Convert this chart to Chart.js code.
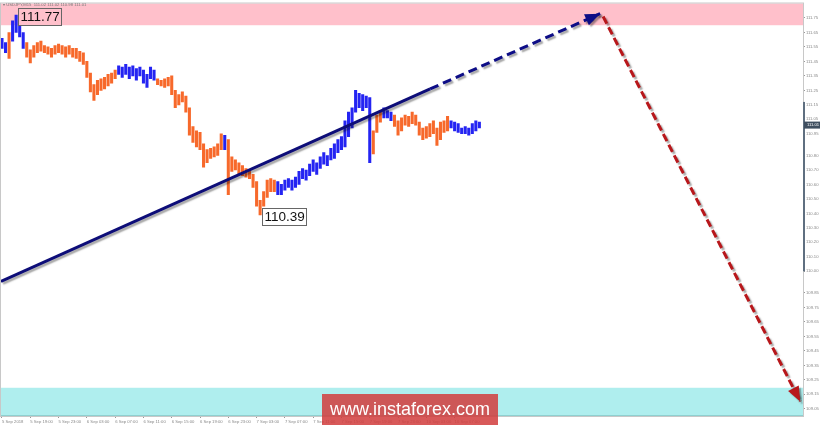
<!DOCTYPE html>
<html><head><meta charset="utf-8">
<script src="https://cdn.jsdelivr.net/npm/chart.js@4.4.1/dist/chart.umd.min.js"></script>
<style>html,body{margin:0;padding:0;background:#fff;overflow:hidden}#wrap{width:820px;height:426px;position:relative}</style>
</head><body><div id="wrap"><canvas id="c" width="820" height="426"></canvas></div>
<script>
// ---- data (USDJPY, half-hour bars, prices) ----
const barHigh = [111.61,111.58,111.65,111.73,111.77,111.70,111.65,111.58,111.53,111.56,
111.58,111.59,111.56,111.55,111.54,111.56,111.57,111.56,111.55,111.56,
111.54,111.54,111.52,111.51,111.45,111.37,111.29,111.32,111.33,111.34,
111.36,111.37,111.39,111.42,111.41,111.43,111.41,111.42,111.40,111.41,
111.39,111.36,111.41,111.39,111.33,111.32,111.33,111.34,111.35,111.25,
111.22,111.24,111.21,111.13,111.00,110.97,110.96,110.88,110.84,110.85,
110.86,110.88,110.95,110.94,110.91,110.79,110.77,110.75,110.73,110.71,
110.70,110.67,110.62,110.49,110.55,110.63,110.64,110.63,110.62,110.60,
110.63,110.64,110.63,110.65,110.69,110.71,110.70,110.74,110.77,110.75,
110.79,110.82,110.80,110.85,110.88,110.91,110.93,111.04,111.10,111.13,
111.25,111.23,111.22,111.21,111.20,110.97,111.08,111.11,111.13,111.11,
111.10,111.08,111.04,111.06,111.08,111.07,111.10,111.08,111.03,110.99,
111.00,111.02,111.04,110.99,111.03,111.04,111.07,111.04,111.03,111.02,
110.99,111.00,110.99,111.02,111.04,111.03];
const barLow = [111.54,111.51,111.47,111.59,111.65,111.62,111.54,111.48,111.44,111.48,
111.51,111.52,111.51,111.50,111.48,111.50,111.51,111.50,111.48,111.50,
111.48,111.47,111.45,111.43,111.34,111.24,111.18,111.22,111.25,111.26,
111.28,111.30,111.33,111.36,111.34,111.36,111.33,111.35,111.32,111.35,
111.30,111.27,111.33,111.32,111.29,111.28,111.27,111.28,111.22,111.13,
111.15,111.17,111.10,110.94,110.89,110.86,110.84,110.72,110.75,110.78,
110.79,110.80,110.84,110.84,110.53,110.69,110.70,110.67,110.66,110.65,
110.64,110.58,110.45,110.39,110.45,110.51,110.55,110.55,110.53,110.53,
110.56,110.58,110.56,110.58,110.60,110.64,110.63,110.66,110.69,110.67,
110.71,110.74,110.73,110.77,110.78,110.82,110.84,110.86,110.93,110.99,
111.10,111.13,111.11,111.13,110.75,110.81,110.96,111.03,111.06,111.06,
111.04,111.00,110.94,110.97,111.01,111.00,111.02,111.01,110.94,110.91,
110.92,110.93,110.95,110.87,110.91,110.96,110.97,110.99,110.97,110.96,
110.95,110.95,110.94,110.95,110.97,110.99];
const waveStart = [0,2,3,7,33,44,63,64,78,105,108,111,127];
const waveDir = ['up','down','up','down','up','down','up','down','up','down','up','down','up'];
const barStepHours = 0.5;
const xTickHours = [0,4,8,12,16,20,24,28,32,36,40,44,48,52,56,60,64];
const xTickLabels = ['5 Sep 2018','5 Sep 19:00','5 Sep 23:00','6 Sep 03:00','6 Sep 07:00','6 Sep 11:00',
'6 Sep 15:00','6 Sep 19:00','6 Sep 23:00','7 Sep 03:00','7 Sep 07:00','7 Sep 11:00','7 Sep 15:00',
'7 Sep 19:00','7 Sep 23:00','10 Sep 03:00','10 Sep 07:00'];
const yTickValues = [111.75,111.65,111.55,111.45,111.35,111.25,111.15,111.05,110.95,110.80,110.70,110.60,
110.50,110.40,110.30,110.20,110.10,110.00,109.85,109.75,109.65,109.55,109.45,109.35,109.25,109.15,109.05];
const trendX = [-0.14, 60.54, 84.58];
const trendY = [109.93, 111.26, 111.78];
const forecastX = [85.0, 112.87];
const forecastY = [111.76, 109.10];
const resistanceZone = [111.70, 111.85];
const supportZone = [109.00, 109.195];
const extremeIdx = [4, 73];
const extremeVal = [111.77, 110.39];
const lastPrice = 111.01;
const priceBarRange = [110.00, 111.17];
const headerText = '\u25BE USDJPY,M15  111.02 111.02 110.98 111.01';

const BLUE = '#2424f2', ORANGE = '#f7692b';
function barColor(i){
  let w = 0;
  for (let k=0;k<waveStart.length;k++) if (waveStart[k] <= i) w = k;
  return waveDir[w] === 'up' ? BLUE : ORANGE;
}

const bars = barHigh.map((h,i)=>({x:i*barStepHours, y:[barLow[i], h]}));

function arrowHead(ctx, p0, p1, color, len, wid){
  const ang = Math.atan2(p1.y-p0.y, p1.x-p0.x);
  ctx.save();
  ctx.translate(p1.x,p1.y); ctx.rotate(ang);
  ctx.fillStyle = color;
  ctx.beginPath(); ctx.moveTo(0,0); ctx.lineTo(-len, -wid/2); ctx.lineTo(-len, wid/2); ctx.closePath(); ctx.fill();
  ctx.restore();
}

const TICK_FONT = '4.2px "Liberation Sans"';
const decor = {
  id:'decor',
  beforeDatasetsDraw(chart){
    const {ctx, chartArea:a, scales:{y}} = chart;
    ctx.save();
    const rt = Math.max(a.top, y.getPixelForValue(resistanceZone[1]));
    const rb = y.getPixelForValue(resistanceZone[0]);
    ctx.fillStyle = '#ffc0cb';
    ctx.fillRect(a.left, rt, a.right-a.left, rb-rt);
    const st = y.getPixelForValue(supportZone[1]);
    const sb = Math.min(a.bottom, y.getPixelForValue(supportZone[0]));
    ctx.fillStyle = '#afeeee';
    ctx.fillRect(a.left, st, a.right-a.left, sb-st);
    ctx.strokeStyle = '#8fd0d0'; ctx.lineWidth = 1;
    ctx.beginPath(); ctx.moveTo(a.left, sb-0.5); ctx.lineTo(a.right, sb-0.5); ctx.stroke();
    ctx.strokeStyle = '#c8c8c8';
    ctx.strokeRect(a.left-0.5, a.top-0.5, a.right-a.left+1, a.bottom-a.top+1);
    ctx.fillStyle = '#777';
    ctx.font = '4.2px "Liberation Sans"';
    ctx.textBaseline = 'middle';
    ctx.fillText(headerText, 3, 5);
    ctx.restore();
  },
  beforeDatasetDraw(chart, args){
    const ds = chart.data.datasets[args.index];
    if (ds.shadow){
      const ctx = chart.ctx; ctx.save();
      ctx.shadowColor = 'rgba(0,0,0,0.35)'; ctx.shadowOffsetX = 2; ctx.shadowOffsetY = 2; ctx.shadowBlur = 1.5;
    }
  },
  afterDatasetDraw(chart, args){
    const ds = chart.data.datasets[args.index];
    if (ds.shadow){
      const ctx = chart.ctx;
      if (ds.arrow){
        const pts = chart.getDatasetMeta(args.index).data;
        const n = pts.length;
        arrowHead(ctx, pts[n-2], pts[n-1], ds.borderColor, 15, 12);
      }
      ctx.restore();
    }
  },
  afterDatasetsDraw(chart){
    const {ctx, chartArea:a, scales:{x,y}} = chart;
    ctx.save();
    ctx.font = '13.5px "Liberation Sans"';
    ctx.textBaseline = 'middle';
    for (let k=0;k<extremeIdx.length;k++){
      const px = x.getPixelForValue(extremeIdx[k]*barStepHours) + 2;
      const py = y.getPixelForValue(extremeVal[k]) + 1.5;
      const t = extremeVal[k].toFixed(2);
      const w = ctx.measureText(t).width + 4;
      ctx.strokeStyle = '#666'; ctx.lineWidth = 1;
      ctx.strokeRect(Math.round(px)+0.5, Math.round(py-8.5)+0.5, Math.round(w), 17);
      ctx.fillStyle = '#111';
      ctx.fillText(t, Math.round(px)+2.5, py+0.5);
    }
    const p1 = y.getPixelForValue(priceBarRange[1]), p0 = y.getPixelForValue(priceBarRange[0]);
    ctx.fillStyle = '#5f6f80';
    ctx.fillRect(a.right, p1, 2, p0-p1);
    ctx.restore();
  },
  afterDraw(chart){
    const {ctx, chartArea:a, scales:{y}} = chart;
    ctx.save();
    const py = y.getPixelForValue(lastPrice);
    ctx.fillStyle = '#3f4f60';
    ctx.fillRect(a.right+1, py-3.5, 16, 7);
    ctx.fillStyle = '#fff';
    ctx.font = TICK_FONT;
    ctx.textBaseline = 'middle';
    ctx.fillText(lastPrice.toFixed(2), a.right+4, py);
    ctx.fillStyle = 'rgba(210,62,62,0.86)';
    ctx.fillRect(322, 394, 176, 31);
    ctx.fillStyle = '#fff';
    ctx.font = '18px "Liberation Sans"';
    ctx.textAlign = 'center';
    ctx.fillText('www.instaforex.com', 410, 410);
    ctx.restore();
  }
};

new Chart(document.getElementById('c'), {
  type:'bar',
  data:{
    datasets:[
      {type:'bar', data:bars, backgroundColor:bars.map((b,i)=>barColor(i)), barThickness:2.4, borderWidth:0, order:3},
      {type:'line', data:[{x:trendX[0],y:trendY[0]},{x:trendX[1],y:trendY[1]}], borderColor:'#0d0d78', borderWidth:3,
        pointRadius:0, tension:0, order:2, shadow:true},
      {type:'line', data:[{x:trendX[1],y:trendY[1]},{x:trendX[2],y:trendY[2]}], borderColor:'#0d0d86', borderWidth:3,
        borderDash:[9,5], pointRadius:0, tension:0, order:1, shadow:true, arrow:true},
      {type:'line', data:forecastX.map((v,i)=>({x:v,y:forecastY[i]})), borderColor:'#b8171b', borderWidth:3,
        borderDash:[8,4], pointRadius:0, tension:0, order:0, shadow:true, arrow:true}
    ]
  },
  options:{
    responsive:false, animation:false, devicePixelRatio:1,
    layout:{padding:{left:1, top:1, right:0, bottom:0}},
    plugins:{legend:{display:false}, tooltip:{enabled:false}},
    scales:{
      x:{type:'linear', min:-0.14, max:113.26, offset:false,
        afterBuildTicks:(s)=>{ s.ticks = xTickHours.map(v=>({value:v})); },
        afterFit:(s)=>{ s.height = 10; },
        grid:{drawOnChartArea:false, tickLength:2, color:'#999', offset:false},
        border:{display:false},
        ticks:{autoSkip:false, maxRotation:0, minRotation:0, align:'start', padding:1,
          color:'#888', font:{size:4.2, family:'Liberation Sans'},
          callback:(v,i)=>xTickLabels[i]}
      },
      y:{type:'linear', position:'right', min:109.0, max:111.85,
        afterBuildTicks:(s)=>{ s.ticks = yTickValues.map(v=>({value:v})); },
        afterFit:(s)=>{ s.width = 17; },
        grid:{drawOnChartArea:false, tickLength:2, color:'#999'},
        border:{display:true, color:'#bbb'},
        ticks:{padding:1, color:'#888', font:{size:4.2, family:'Liberation Sans'},
          callback:(v)=>Number(v).toFixed(2)}
      }
    }
  },
  plugins:[decor]
});
</script></body></html>
